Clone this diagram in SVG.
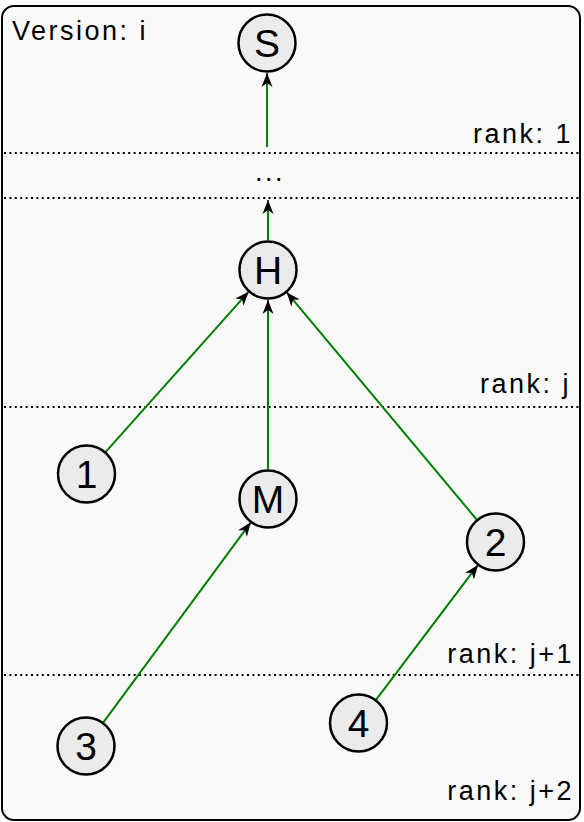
<svg xmlns="http://www.w3.org/2000/svg" width="584" height="822" viewBox="0 0 584 822">
<style>
.lbl{font-family:"Liberation Sans",Arial,sans-serif;font-size:27px;letter-spacing:2.5px;fill:#000}
.rank{text-anchor:end}
.node circle{fill:#ebebeb;stroke:#000;stroke-width:2.5}
.node text{font-family:"Liberation Sans",Arial,sans-serif;font-size:39px;fill:#000;text-anchor:middle}
.sep{stroke:#000;stroke-width:2;stroke-dasharray:2 3.4;fill:none}
.edge{stroke:#008000;stroke-width:2;fill:none;marker-end:url(#ah)}
</style>
<defs>
<marker id="ah" markerUnits="userSpaceOnUse" markerWidth="16" markerHeight="14" viewBox="-15 -7 16 14" refX="0" refY="0" orient="auto">
<path d="M0,0 L-14,-5.5 L-10,0 L-14,5.5 Z" fill="#000"/>
</marker>
</defs>
<rect x="2" y="6" width="578" height="814" rx="12" ry="12" fill="#f9f9f9" stroke="#000" stroke-width="2"/>
<g id="separators">
<line class="sep" x1="4" y1="153" x2="579" y2="153"/>
<line class="sep" x1="4" y1="198" x2="579" y2="198"/>
<line class="sep" x1="4" y1="407" x2="579" y2="407"/>
<line class="sep" x1="4" y1="675" x2="579" y2="675"/>
</g>
<g id="labels">
<text class="lbl" x="12" y="40">Version: i</text>
<text class="lbl rank" x="573" y="143">rank: 1</text>
<text class="lbl rank" x="571" y="393">rank: j</text>
<text class="lbl rank" x="574" y="663">rank: j+1</text>
<text class="lbl rank" x="574" y="800">rank: j+2</text>
<text class="lbl" x="270" y="181" text-anchor="middle">...</text>
</g>
<g id="connectors">
<line class="edge" x1="267" y1="147" x2="267" y2="73"/>
<line class="edge" x1="268" y1="240" x2="268" y2="200"/>
<line class="edge" x1="105.3" y1="452.3" x2="248.7" y2="291.7"/>
<line class="edge" x1="268" y1="469" x2="268" y2="300"/>
<line class="edge" x1="476.9" y1="519.8" x2="286.6" y2="292.2"/>
<line class="edge" x1="103.2" y1="722.7" x2="250.8" y2="522.3"/>
<line class="edge" x1="376" y1="699.9" x2="478" y2="564.9"/>
</g>
<g id="node-S" class="node"><circle cx="267" cy="43" r="28.5"/><text x="267" y="57">S</text></g>
<g id="node-H" class="node"><circle cx="268" cy="270" r="28.5"/><text x="268" y="284">H</text></g>
<g id="node-1" class="node"><circle cx="86.5" cy="474" r="28.5"/><text x="86.5" y="488">1</text></g>
<g id="node-M" class="node"><circle cx="268" cy="499" r="28.5"/><text x="268" y="513">M</text></g>
<g id="node-2" class="node"><circle cx="495.5" cy="542" r="28.5"/><text x="495.5" y="556">2</text></g>
<g id="node-3" class="node"><circle cx="86" cy="746" r="28.5"/><text x="86" y="760">3</text></g>
<g id="node-4" class="node"><circle cx="358.5" cy="723" r="28.5"/><text x="358.5" y="737">4</text></g>
</svg>
